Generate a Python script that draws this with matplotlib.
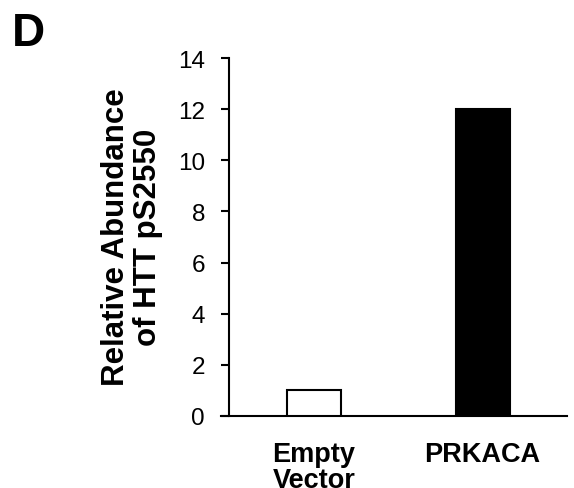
import matplotlib
matplotlib.use("Agg")
import matplotlib.pyplot as plt

categories = ["Empty\nVector", "PRKACA"]
values = [1, 12]
fill_colors = ["white", "black"]
yticks = [0, 2, 4, 6, 8, 10, 12, 14]
ylabel = "Relative Abundance\nof HTT pS2550"
panel = "D"

plt.rcParams['font.family'] = ['Liberation Sans', 'DejaVu Sans']

W, H = 574, 489
fig = plt.figure(figsize=(W / 100, H / 100), dpi=100)
ax = fig.add_axes([221 / W, 72 / H, 346 / W, 358 / H])

x = list(range(len(categories)))
ax.bar(x, values, width=0.32, color=fill_colors, edgecolor="black", linewidth=1.5, zorder=3)

ax.set_xlim(-0.552, 1.501)
ax.set_ylim(0, 14)
ax.set_yticks(yticks)
ax.set_yticklabels([str(t) for t in yticks])
ax.set_xticks(x)
ax.set_xticklabels(categories, fontweight="bold", linespacing=1.0)

for s in ["top", "right"]:
    ax.spines[s].set_visible(False)
ax.spines["left"].set_position(("data", -0.504))
ax.spines["left"].set_linewidth(1.5)
ax.spines["bottom"].set_linewidth(1.5)

ax.tick_params(axis="y", direction="out", length=5.8, width=1.5, pad=11.5, labelsize=17.5)
ax.tick_params(axis="x", length=0, pad=17.8, labelsize=19.5)

fig.text(132 / W, 1 - 237 / H, ylabel, rotation=90, ha="center", va="center",
         fontsize=22.5, fontweight="bold", linespacing=1.05, multialignment="center")
fig.text(12 / W, 1 - 46 / H, panel, ha="left", va="baseline", fontsize=33, fontweight="bold")

fig.savefig("out.png", dpi=100)
